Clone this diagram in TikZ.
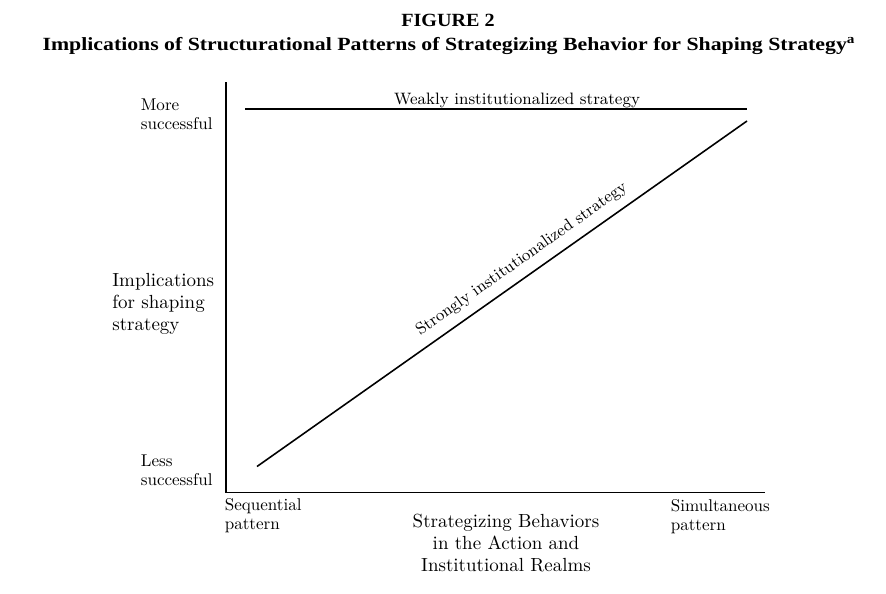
\documentclass[tikz,border=0pt]{standalone}
\usepackage{fontspec}
\newfontfamily\titlefont[FakeStretch=1.08]{Liberation Serif}
\newfontfamily\captionfont[FakeStretch=1.17]{Liberation Serif}
\usepackage{tikz}
\usetikzlibrary{positioning, calc}

\tikzset{
  axis/.style={line width=1.1pt},
  curve/.style={line width=0.9pt},
  tick label/.style={font=\fontsize{9.7}{10.8}\selectfont, align=left, inner sep=0pt},
  axis title/.style={font=\fontsize{10.8}{12.3}\selectfont, inner sep=0pt},
  line label/.style={font=\fontsize{9.4}{11}\selectfont}
}

\begin{document}
\begin{tikzpicture}[x=0.02cm, y=-0.02cm]
  \useasboundingbox (0,0) rectangle (886,593);

  % title
  \node[anchor=base, inner sep=0pt, font=\titlefont\bfseries\fontsize{10.6}{12}\selectfont] (fig) at (448,26) {FIGURE 2};
  \node[anchor=base, inner sep=0pt, font=\captionfont\bfseries\fontsize{10.6}{12}\selectfont] (caption) at (449,50)
    {Implications of Structurational Patterns of Strategizing Behavior for Shaping Strategy\textsuperscript{a}};

  % axes
  \coordinate (top) at (226,82);
  \coordinate (origin) at (226,492.5);
  \coordinate (right) at (765,492.5);
  \draw[axis] (top) -- (origin) -- (right);

  % weakly institutionalized strategy
  \coordinate (w0) at (245,109);
  \coordinate (w1) at (747,109);
  \draw[curve] (w0) -- (w1);
  \node[line label, anchor=base, inner sep=0pt] (weak) at (517,104) {Weakly institutionalized strategy};

  % strongly institutionalized strategy
  \coordinate (s0) at (257,466.5);
  \coordinate (s1) at (747,121);
  \draw[curve] (s0) -- (s1) node[line label, pos=0.56, sloped, above=1.5pt] (strong) {Strongly institutionalized strategy};

  % y axis labels (base = last line)
  \node[tick label, anchor=base west] (more) at (140.5,129.5) {More\\successful};
  \node[tick label, anchor=base west] (less) at (140.5,485) {Less\\successful};
  \node[axis title, anchor=base west, align=left] (ytitle) at (112,330) {Implications\\for shaping\\strategy};

  % x axis labels
  \node[tick label, anchor=base west] (seq) at (224.5,529.5) {Sequential\\pattern};
  \node[tick label, anchor=base west] (sim) at (670.5,530) {Simultaneous\\pattern};
  \node[axis title, anchor=base, align=center] (xtitle) at (506,571) {Strategizing Behaviors\\in the Action and\\Institutional Realms};
\end{tikzpicture}
\end{document}
